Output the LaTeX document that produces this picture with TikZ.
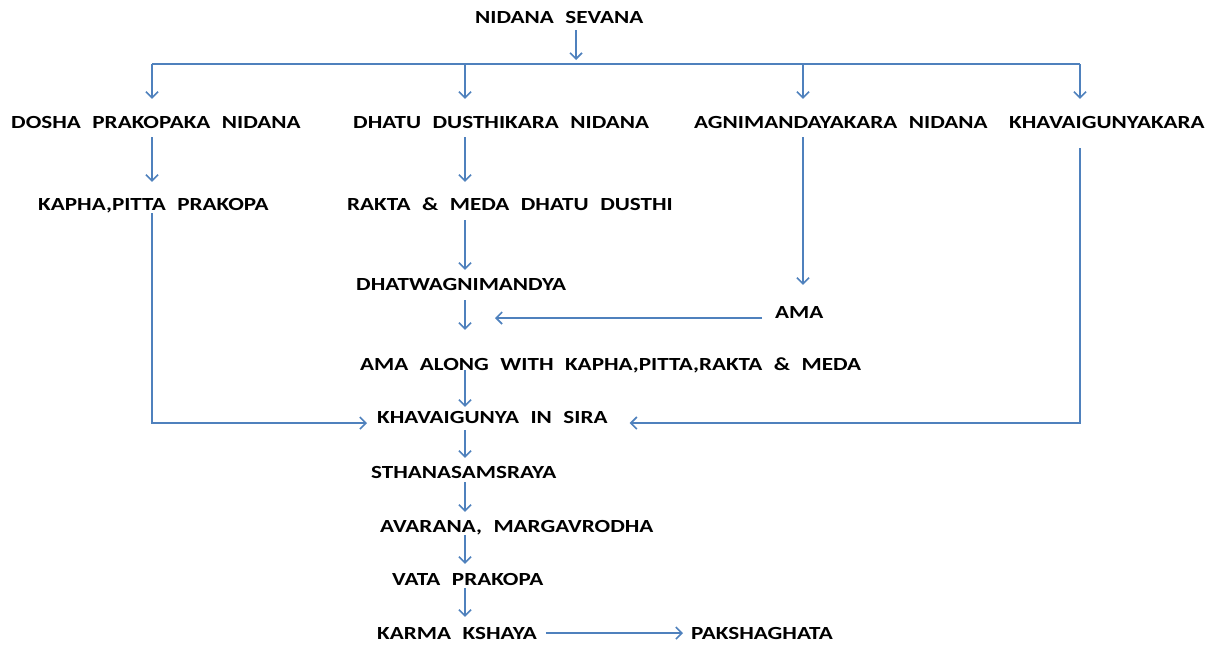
\documentclass[tikz,border=0pt]{standalone}
\usepackage{fontspec}
\setmainfont{Carlito}[FakeStretch=1.25, WordSpace=2.2]
\usetikzlibrary{arrows.meta}
\definecolor{flowblue}{RGB}{79,129,189}

\begin{document}
\begin{tikzpicture}[x=1pt, y=-1pt,
        lbl/.style={anchor=base west, inner sep=0pt, text height=12pt, text depth=0pt,
          font=\fontsize{18.5}{20}\selectfont\bfseries},
        link/.style={flowblue, line width=1.6pt},
        flow/.style={link, -{Straight Barb[length=6pt,width=12pt]}}]
        \useasboundingbox (0,0) rectangle (1218,646);
        % Texts
        \node[lbl] (ns) at (475,23) {NIDANA SEVANA};
        \node[lbl] (dpn) at (11,128) {DOSHA PRAKOPAKA NIDANA};
        \node[lbl] (ddn) at (353,128) {DHATU DUSTHIKARA NIDANA};
        \node[lbl] (agn) at (694,128) {AGNIMANDAYAKARA NIDANA};
        \node[lbl] (kvk) at (1009,128) {KHAVAIGUNYAKARA};
        \node[lbl] (kpp) at (38,210) {KAPHA,PITTA PRAKOPA};
        \node[lbl] (rmd) at (347,210) {RAKTA \& MEDA DHATU DUSTHI};
        \node[lbl] (dwm) at (356,290) {DHATWAGNIMANDYA};
        \node[lbl] (ama) at (775,318) {AMA};
        \node[lbl] (aaw) at (360,370) {AMA ALONG WITH KAPHA,PITTA,RAKTA \& MEDA};
        \node[lbl] (kis) at (377,423) {KHAVAIGUNYA IN SIRA};
        \node[lbl] (sth) at (371,478) {STHANASAMSRAYA};
        \node[lbl] (avm) at (380,532) {AVARANA, MARGAVRODHA};
        \node[lbl] (vtp) at (392,585) {VATA PRAKOPA};
        \node[lbl] (kks) at (377,639) {KARMA KSHAYA};
        \node[lbl] (pkg) at (691,639) {PAKSHAGHATA};
        % Branch points
        \coordinate (split) at (576,64);
        \coordinate (c1) at (152,64);
        \coordinate (c2) at (465,64);
        \coordinate (c3) at (803,64);
        \coordinate (c4) at (1080,64);
        \coordinate (jn) at (495,318);
        % Fan out
        \draw[flow, shorten <=7pt, shorten >=4pt] (ns.south -| split) -- (split);
        \draw[link] (c1) -- (c4);
        \foreach \c/\n in {c1/dpn, c2/ddn, c3/agn, c4/kvk} {
          \draw[flow, shorten >=17pt] (\c) -- (\n.north -| \c);
        }
        % Main column
        \foreach \a/\b/\s/\e in {dpn/kpp/9/16} {
          \draw[flow, shorten <=\s pt, shorten >=\e pt] (\a.south -| c1) -- (\b.north -| c1);
        }
        \foreach \a/\b/\s/\e in {ddn/rmd/9/16, rmd/dwm/10/8, dwm/aaw/10/28, aaw/kis/0/4,
            kis/sth/7/8, sth/avm/4/8, avm/vtp/3/9, vtp/kks/3/10} {
          \draw[flow, shorten <=\s pt, shorten >=\e pt] (\a.south -| c2) -- (\b.north -| c2);
        }
        \draw[flow, shorten <=9pt, shorten >=21pt] (agn.south -| c3) -- (ama.north -| c3);
        \draw[flow, shorten <=13pt] (ama.base west) -- (jn);
        % Side feeds
        \draw[flow, shorten <=3pt, shorten >=10pt] (kpp.south -| c1) |- (kis.base west);
        \draw[flow, shorten <=20pt, shorten >=22pt] (kvk.south -| c4) |- (kis.base east);
        \draw[flow, shorten <=9pt, shorten >=8pt] (kks.west -| kks.east) -- (pkg.west);
\end{tikzpicture}
\end{document}
